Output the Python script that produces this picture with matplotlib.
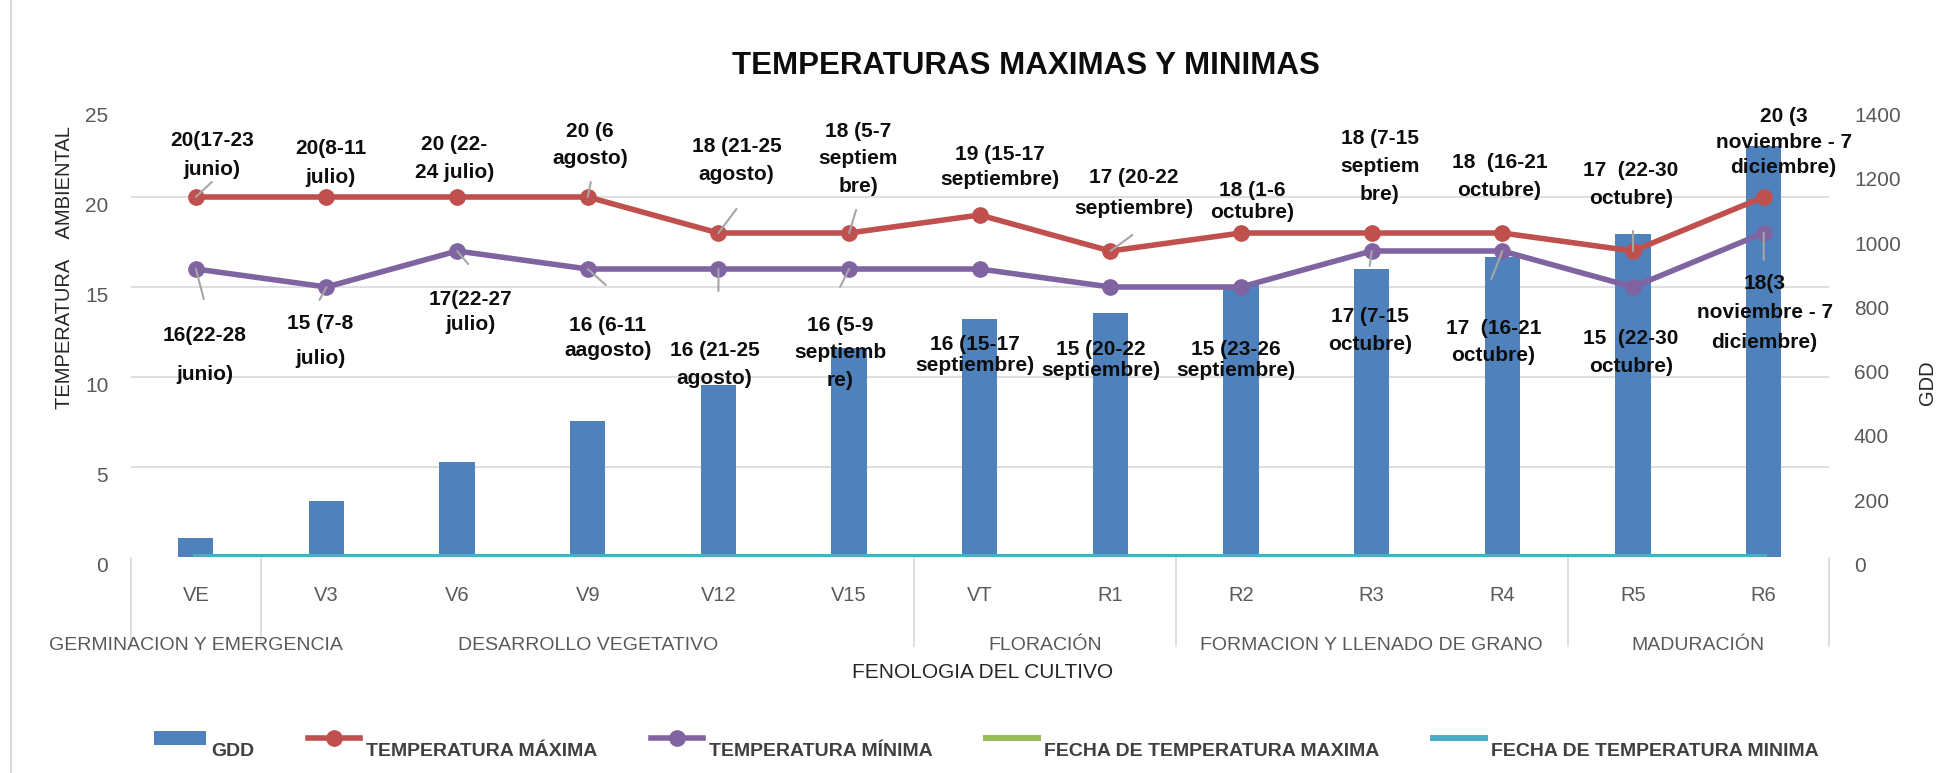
import numpy as np
import matplotlib
matplotlib.use('Agg')
import matplotlib.pyplot as plt
from matplotlib import font_manager as fm
from matplotlib.transforms import blended_transform_factory
from matplotlib.ticker import FixedLocator
from matplotlib.lines import Line2D

# ---------------- data ----------------
CATEGORIES = ['VE', 'V3', 'V6', 'V9', 'V12', 'V15', 'VT', 'R1', 'R2', 'R3', 'R4', 'R5', 'R6']
GDD = [60, 173, 296, 423, 535, 649, 740, 760, 846, 896, 934, 1005, 1280]
TEMP_MAX = [20, 20, 20, 20, 18, 18, 19, 17, 18, 18, 18, 17, 20]
TEMP_MIN = [16, 15, 17, 16, 16, 16, 16, 15, 15, 17, 17, 15, 18]
FECHA_MAX = [0, 0, 0, 0, 0, 0, 0, 0, 0, 0, 0, 0, 0]
FECHA_MIN = [0, 0, 0, 0, 0, 0, 0, 0, 0, 0, 0, 0, 0]

MAX_LABELS = ['20(17-23\njunio)', '20(8-11\njulio)', '20 (22-\n24 julio)', '20 (6\nagosto)',
              '18 (21-25\nagosto)', '18 (5-7\nseptiem\nbre)', '19 (15-17\nseptiembre)',
              '17 (20-22\nseptiembre)', '18 (1-6\noctubre)', '18 (7-15\nseptiem\nbre)',
              '18  (16-21\noctubre)', '17  (22-30\noctubre)', '20 (3\nnoviembre - 7\ndiciembre)']
MIN_LABELS = ['16(22-28\njunio)', '15 (7-8\njulio)', '17(22-27\njulio)', '16 (6-11\naagosto)',
              '16 (21-25\nagosto)', '16 (5-9\nseptiemb\nre)', '16 (15-17\nseptiembre)',
              '15 (20-22\nseptiembre)', '15 (23-26\nseptiembre)', '17 (7-15\noctubre)',
              '17  (16-21\noctubre)', '15  (22-30\noctubre)', '18(3\nnoviembre - 7\ndiciembre)']

GROUPS = ['GERMINACION Y EMERGENCIA', 'DESARROLLO VEGETATIVO', 'FLORACIÓN',
          'FORMACION Y LLENADO DE GRANO', 'MADURACIÓN']
GROUP_SIZES = [1, 5, 2, 3, 2]
TEMP_TICKS = [0, 5, 10, 15, 20, 25]
GDD_TICKS = [0, 200, 400, 600, 800, 1000, 1200, 1400]

SERIES_NAMES = ['GDD', 'TEMPERATURA MÁXIMA', 'TEMPERATURA MÍNIMA',
                'FECHA DE TEMPERATURA MAXIMA', 'FECHA DE TEMPERATURA MINIMA']
TITLE = 'TEMPERATURAS MAXIMAS Y MINIMAS'
XLABEL = 'FENOLOGIA DEL CULTIVO'
YLABEL = 'TEMPERATURA    AMBIENTAL'
Y2LABEL = 'GDD'

# ---------------- layout (pixels) ----------------
MAX_OFFSETS = [(16, 42), (4, 34), (-3, 38), (2, 52), (18, 73), (9, 74), (20, 48),
               (23, 58), (11, 31), (8, 66), (-3, 57), (-2, 66), (20, 55)]
MAX_LS = [1.62, 1.65, 1.6, 1.58, 1.6, 1.55, 1.45, 1.8, 1.2, 1.6, 1.6, 1.6, 1.45]
MAX_LEADS = [(16, 15), None, None, (3, 15), (18, 24), (7, 23), None,
             (22, 16), None, None, None, (0, 20), None]
MIN_OFFSETS = [(9, -86), (-6, -54), (13, -61), (20, -69), (-4, -96), (-9, -84), (-5, -86),
               (-10, -73), (-5, -73), (-2, -79), (-9, -91), (-2, -66), (1, -80)]
MIN_LS = [2.27, 2.05, 1.45, 1.45, 1.6, 1.55, 1.14, 1.14, 1.14, 1.6, 1.55, 1.6, 1.7]
MIN_LEADS = [(8, -30), (-7, -13), (11, -13), (18, -16), (0, -22), (-9, -18), None,
             None, None, (-2, -15), (-11, -28), None, (0, -27)]

C_BAR = '#4F81BD'
C_MAX = '#C0504D'
C_MIN = '#8064A2'
C_FMAX = '#9BBB59'
C_FMIN = '#4BACC6'
C_GRID = '#D9D9D9'
C_TICK = '#595959'
C_LEAD = '#A6A6A6'

names = {f.name for f in fm.fontManager.ttflist}
FAM = ['Liberation Sans', 'DejaVu Sans']
if 'Liberation Sans Narrow' in names:
    ROT_FAM, ROT_SIZE = ['Liberation Sans Narrow', 'DejaVu Sans'], 18
else:
    ROT_FAM, ROT_SIZE = FAM, 14.5
plt.rcParams['font.family'] = FAM

W, H = 1959, 773
fig = plt.figure(figsize=(W / 100, H / 100), dpi=100)
fig.patch.set_facecolor('white')

AX_L, AX_R, AX_T, AX_B = 130.5, 1829, 107, 557
ax = fig.add_axes([AX_L / W, 1 - AX_B / H, (AX_R - AX_L) / W, (AX_B - AX_T) / H])
ax2 = ax.twinx()
ax.set_zorder(ax2.get_zorder() + 1)
ax.patch.set_visible(False)

x = np.arange(len(CATEGORIES))

# bars on GDD axis
bars = ax2.bar(x, GDD, width=0.27, color=C_BAR, zorder=2, label=SERIES_NAMES[0])
ax2.set_ylim(0, 1400)
ax2.set_yticks(GDD_TICKS)
ax2.yaxis.set_minor_locator(FixedLocator(np.array(TEMP_TICKS) * 1400 / 25))
ax2.grid(which='minor', axis='y', color=C_GRID, lw=1.2)
ax2.set_axisbelow(True)
ax2.tick_params(axis='y', which='both', length=0, pad=18, labelsize=15, labelcolor=C_TICK)

# lines on temperature axis
l_fmax, = ax.plot(x, FECHA_MAX, color=C_FMAX, lw=4.3, label=SERIES_NAMES[3], zorder=2)
l_fmin, = ax.plot(x, FECHA_MIN, color=C_FMIN, lw=4.3, label=SERIES_NAMES[4], zorder=2.1)
l_max, = ax.plot(x, TEMP_MAX, color=C_MAX, lw=4, marker='o', markersize=11, label=SERIES_NAMES[1], zorder=2.5)
l_min, = ax.plot(x, TEMP_MIN, color=C_MIN, lw=4, marker='o', markersize=11, label=SERIES_NAMES[2], zorder=2.5)

ax.set_ylim(0, 25)
ax.set_xlim(-0.5, len(CATEGORIES) - 0.5)
ax.set_yticks(TEMP_TICKS)
ax.tick_params(axis='y', length=0, pad=16, labelsize=15, labelcolor=C_TICK)
ax.set_xticks(x)
ax.set_xticklabels(CATEGORIES)
ax.tick_params(axis='x', which='major', length=0, pad=21, labelsize=14.5, labelcolor=C_TICK)

# group separators as minor ticks
bounds = np.concatenate([[0], np.cumsum(GROUP_SIZES)]) - 0.5
ax.set_xticks(bounds, minor=True)
ax.tick_params(axis='x', which='minor', length=65, width=1.2, color=C_GRID, direction='out')

for a in (ax, ax2):
    for s in a.spines.values():
        s.set_visible(False)

for lab in ax.get_yticklabels() + ax2.get_yticklabels():
    lab.set_va('top')

trans = blended_transform_factory(ax.transData, ax.transAxes)
ax_h = AX_B - AX_T
starts = np.concatenate([[0], np.cumsum(GROUP_SIZES)[:-1]])
for g, s, n in zip(GROUPS, starts, GROUP_SIZES):
    ax.text(s - 0.5 + n / 2, -(645 - AX_B) / ax_h, g, transform=trans, ha='center', va='center',
            fontsize=14, color=C_TICK)

ax.text((983 - AX_L) / (AX_R - AX_L), -(672 - AX_B) / ax_h, XLABEL, transform=ax.transAxes,
        ha='center', va='center', fontsize=15, color='#262626')


def label_series(vals, texts, offsets, spacings, leads):
    for i, (txt, (dx, dy), ls, lead) in enumerate(zip(texts, offsets, spacings, leads)):
        if lead is not None:
            ax.annotate('', xy=(x[i], vals[i]), xytext=lead, textcoords='offset pixels',
                        arrowprops=dict(arrowstyle='-', color=C_LEAD, lw=1.5,
                                        shrinkA=0, shrinkB=0), zorder=4)
        ax.annotate(txt, xy=(x[i], vals[i]), xytext=(dx, dy), textcoords='offset pixels',
                    ha='center', va='center', fontsize=15, fontweight='bold', color='#0D0D0D',
                    linespacing=ls, zorder=5)


label_series(TEMP_MAX, MAX_LABELS, MAX_OFFSETS, MAX_LS, MAX_LEADS)
label_series(TEMP_MIN, MIN_LABELS, MIN_OFFSETS, MIN_LS, MIN_LEADS)

# titles / axis labels
fig.text(1026 / W, 1 - 66 / H, TITLE, ha='center', va='center', fontsize=22.5,
         fontweight='bold', color='#0D0D0D')
fig.text(65 / W, 1 - 268 / H, YLABEL, rotation=90, ha='center', va='center',
         fontsize=ROT_SIZE, family=ROT_FAM, color='#262626')
fig.text(1928 / W, 1 - 383 / H, Y2LABEL, rotation=90, ha='center', va='center',
         fontsize=ROT_SIZE, family=ROT_FAM, color='#262626')

# legend
handles = [bars, l_max, l_min, l_fmax, l_fmin]
leg = fig.legend(handles, SERIES_NAMES, loc='center', bbox_to_anchor=(986 / W, 1 - 740 / H),
                 ncol=5, frameon=False, handlelength=2.68, handletextpad=0.3,
                 columnspacing=2.75, prop=dict(family=FAM, weight='bold', size=14),
                 labelcolor='#404040')
for t in leg.get_texts():
    t.set_y(-11)

# chart border line on the left
fig.add_artist(Line2D([10.5 / W, 10.5 / W], [0, 1], transform=fig.transFigure,
                      color=C_GRID, lw=1.5))

fig.savefig('out.png', dpi=100, facecolor='white')
